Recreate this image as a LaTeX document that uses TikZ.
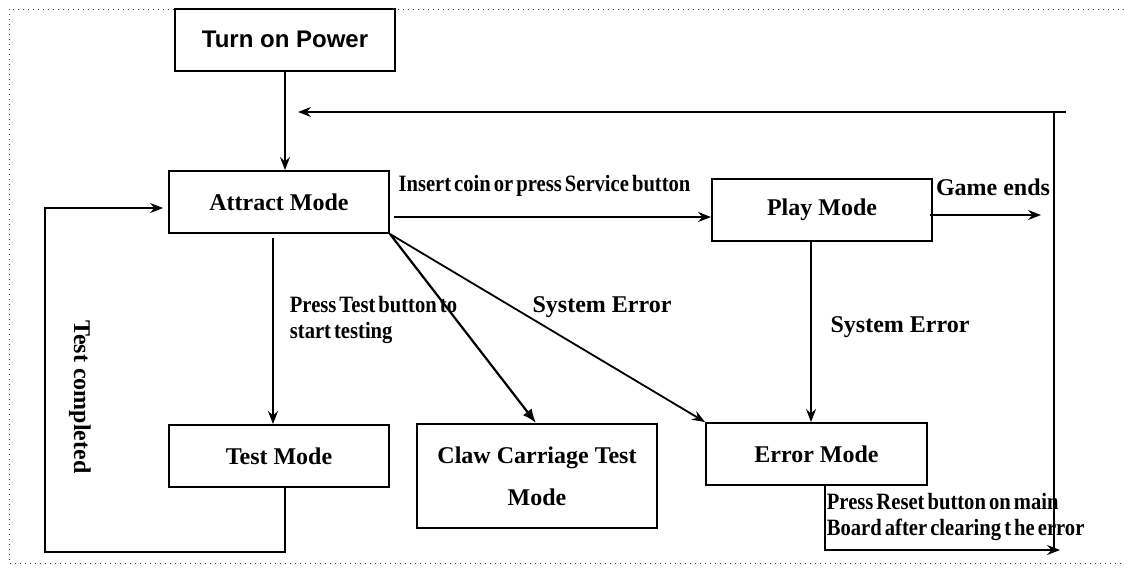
\documentclass[tikz,border=0pt]{standalone}
\usepackage{fontspec}
\setmainfont{Liberation Serif}
\newfontfamily\sansbold{Liberation Sans}
\newfontfamily\condfont[FakeStretch=0.88,WordSpace=0.6]{Liberation Serif}
\usetikzlibrary{arrows.meta}

\begin{document}
\begin{tikzpicture}[x=0.5pt, y=-0.5pt, line width=0.9pt,
    mode/.style={draw, line width=1pt, minimum width=110pt, minimum height=31pt, font=\fontsize{12}{21}\selectfont\bfseries, align=center},
    lbl/.style={font=\fontsize{12}{14}\selectfont\bfseries, inner sep=0pt},
    cond/.style={font=\fontsize{11.7}{13}\selectfont\condfont\bfseries, inner sep=0pt, align=left},
    arr/.style={-{Stealth[length=6.5pt, width=5pt, inset=2.2pt]}},
    bigarr/.style={-{Latex[length=7pt, width=5.5pt]}, line width=1.1pt}]

\useasboundingbox (0,0) rectangle (1124,570);
\draw[dotted, line width=0.5pt, black!80] (1124,9) -- (9,9) -- (9,563) -- (1124,563);

\node[mode, font=\fontsize{12}{14}\selectfont\sansbold\bfseries] (power) at (285,39.5) {Turn on Power};
\node[mode] (attract) at (279,202) {Attract Mode};
\node[mode] (play) at (822,209.5) {Play Mode};
\node[mode] (test) at (279,456) {Test Mode};
\node[mode, minimum width=120pt, minimum height=52pt] (claw) at (537,476) {Claw Carriage Test\\Mode};
\node[mode, minimum width=110.5pt] (error) at (816.5,454) {Error Mode};

\coordinate (retstart) at (1066,112);
\coordinate (retend) at (298,112);
\coordinate (retcorner) at (1054,112);
\coordinate (retbottom) at (1054,548);
\coordinate (resetx) at (825,0);
\coordinate (resetcorner) at (825,550);
\coordinate (resetend) at (1060,550);
\coordinate (loopcorner) at (45,551);
\coordinate (loopin) at (163,208);

\draw[arr] (power.south) -- (power.south |- attract.north);
\draw[arr] (retstart) -- (retend);
\draw (retcorner) -- (retbottom);

\draw[arr] ([yshift=-7.5pt]attract.east) ++(2pt,0) -- ([yshift=-3.75pt]play.west)
    node[cond, midway, above=10pt, xshift=-4pt] (coin) {Insert coin or press Service button};
\draw[arr] ([xshift=-1.5pt, yshift=-2.75pt]play.east) -- ++(55.5pt,0) coordinate (gameend);
\node[lbl] (ends) at (993,187) {Game ends};

\draw[arr] ([xshift=-3pt, yshift=-2pt]attract.south) -- ([xshift=-3pt]test.north);
\node[cond, anchor=west] (presstest) at (289,320) {Press Test button to\\start testing};

\draw[bigarr] (attract.south east) -- ([xshift=-0.5pt]claw.north);
\draw[arr] (attract.south east) -- (error.north west);
\node[lbl] (syserr1) at (602,307) {System Error};

\draw[arr] ([xshift=-5.5pt]play.south) -- ([xshift=-2.75pt]error.north);
\node[lbl] (syserr2) at (900,327) {System Error};

\draw[arr] ([xshift=3pt]test.south) -- ++(0,64) -| (loopcorner) |- (loopin);
\node[lbl, rotate=-90] (done) at (80,397) {Test completed};

\draw[arr] (error.south -| resetx) -- (resetcorner) -- (resetend);
\node[cond, anchor=west] (pressreset) at (826,517) {Press Reset button on main\\Board after clearing t he error};

\end{tikzpicture}
\end{document}
